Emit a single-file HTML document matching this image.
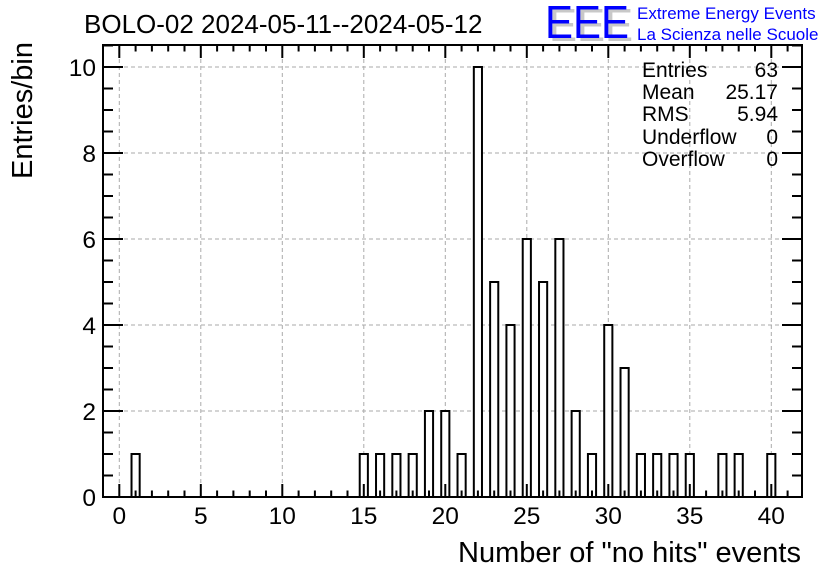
<!DOCTYPE html>
<html><head><meta charset="utf-8"><style>
body{margin:0;background:#fff;}
svg{display:block;font-family:"Liberation Sans",Arial,sans-serif;}
</style></head><body>
<svg id="c" width="836" height="572" viewBox="0 0 836 572" xmlns="http://www.w3.org/2000/svg">
<rect width="836" height="572" fill="#fff"/>
<text x="84" y="33" font-size="26">BOLO-02 2024-05-11--2024-05-12</text>
<g>
<text x="549" y="41" font-size="46" fill="#c8c8c8" textLength="84" lengthAdjust="spacingAndGlyphs">EEE</text>
<text x="545" y="38" font-size="46" fill="#0000ff" textLength="84" lengthAdjust="spacingAndGlyphs">EEE</text>
<text x="637" y="19" font-size="17" fill="#0000ff">Extreme Energy Events</text>
<text x="637" y="40" font-size="17" fill="#0000ff">La Scienza nelle Scuole</text>
</g>
<g id="grid"></g>
<g id="bars"></g>
<g id="ticks"></g>
<rect x="103" y="45" width="699" height="452" fill="none" stroke="#000" stroke-width="2"/>
<g id="labels"></g>
<g font-size="21">
<text x="642" y="77">Entries</text><text x="778" y="77" text-anchor="end">63</text>
<text x="642" y="99">Mean</text><text x="778" y="99" text-anchor="end">25.17</text>
<text x="642" y="121">RMS</text><text x="778" y="121" text-anchor="end">5.94</text>
<text x="642" y="144">Underflow</text><text x="778" y="144" text-anchor="end">0</text>
<text x="642" y="166">Overflow</text><text x="778" y="166" text-anchor="end">0</text>
</g>
<text x="801" y="562" font-size="29" text-anchor="end">Number of "no hits" events</text>
<text transform="translate(32,42) rotate(-90)" font-size="29" text-anchor="end">Entries/bin</text>
</svg>
<script>
const binCenters=[1,15,16,17,18,19,20,21,22,23,24,25,26,27,28,29,30,31,32,33,34,35,37,38,40];
const binCounts=[1,1,1,1,1,2,2,1,10,5,4,6,5,6,2,1,4,3,1,1,1,1,1,1,1];
const xTickLabels=[0,5,10,15,20,25,30,35,40];
const yTickLabels=[0,2,4,6,8,10];
const NS="http://www.w3.org/2000/svg";
const X0=103,X1=802,Y0=497,Y1=45;
const xs=v=>119.3+v*16.3;
const ys=v=>Y0-v*43;
function mk(parent,tag,attrs){const e=document.createElementNS(NS,tag);for(const k in attrs)e.setAttribute(k,attrs[k]);document.getElementById(parent).appendChild(e);return e;}
xTickLabels.forEach(v=>{const e=mk('grid','line',{x1:xs(v),x2:xs(v),y1:Y1,y2:Y0,stroke:'#aaa','stroke-dasharray':'4,3'});

});
yTickLabels.forEach(v=>{const e=mk('grid','line',{x1:X0,x2:X1,y1:ys(v),y2:ys(v),stroke:'#aaa','stroke-dasharray':'4,3'});

});
binCenters.forEach((c,i)=>{const x=xs(c-0.25),w=xs(c+0.25)-x;const y=ys(binCounts[i]);
const e=mk('bars','rect',{x:x,y:y,width:w,height:Y0-y,fill:'#fff',stroke:'#000','stroke-width':2});

});
for(let v=-1;v<=41;v++){const x=xs(v);if(x<X0||x>X1)continue;const L=(v%5===0)?13:6.5;
mk('ticks','line',{x1:x,x2:x,y1:Y0,y2:Y0-L,stroke:'#000','stroke-width':2});
mk('ticks','line',{x1:x,x2:x,y1:Y1,y2:Y1+L,stroke:'#000','stroke-width':2});}
for(let v=0;v<=10.5;v+=0.5){const y=ys(v);const L=(v%2===0)?20:10;
mk('ticks','line',{x1:X0,x2:X0+L,y1:y,y2:y,stroke:'#000','stroke-width':2});
mk('ticks','line',{x1:X1,x2:X1-L,y1:y,y2:y,stroke:'#000','stroke-width':2});}
xTickLabels.forEach(v=>{const e=mk('labels','text',{x:xs(v),y:524,'font-size':24.5,'text-anchor':'middle'});e.textContent=v;

});
yTickLabels.forEach(v=>{const e=mk('labels','text',{x:96,y:ys(v)+9,'font-size':24.5,'text-anchor':'end'});e.textContent=v;

});
</script>
</body></html>
